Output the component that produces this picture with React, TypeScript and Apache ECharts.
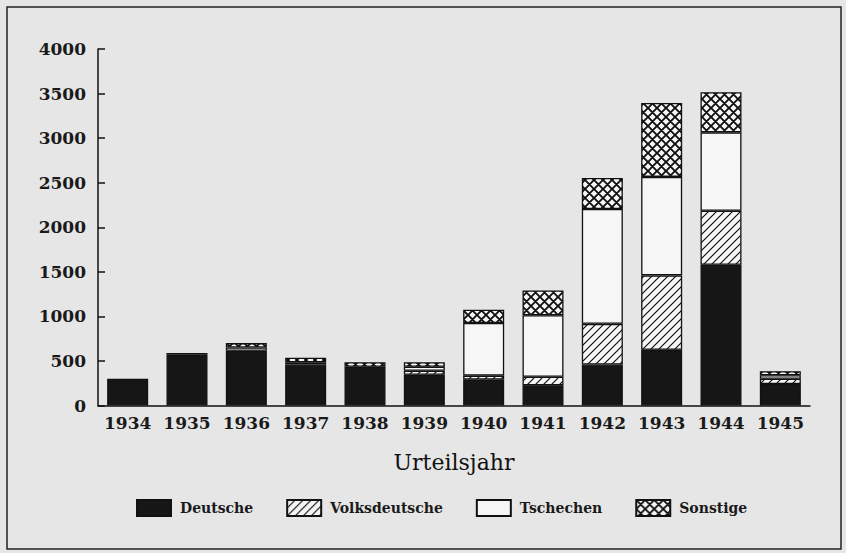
import React, { useEffect, useRef } from "react";
import * as echarts from "echarts";

const years = ["1934", "1935", "1936", "1937", "1938", "1939", "1940", "1941", "1942", "1943", "1944", "1945"];
const deutsche = [300, 570, 615, 460, 435, 345, 290, 228, 460, 625, 1580, 240];
const volksdeutsche = [null, null, null, null, null, 45, 45, 95, 456, 835, 605, 60];
const tschechen = [null, null, 35, 25, null, 45, 590, 690, 1289, 1105, 880, 40];
const sonstige = [null, 20, 50, 50, 50, 50, 150, 277, 347, 830, 450, 45];
const yTicks = [0, 500, 1000, 1500, 2000, 2500, 3000, 3500, 4000];

function makePattern(cross: boolean) {
  const s = cross ? 9 : 8;
  const c = document.createElement("canvas");
  c.width = s;
  c.height = s;
  const ctx = c.getContext("2d")!;
  ctx.fillStyle = "#f6f6f6";
  ctx.fillRect(0, 0, s, s);
  ctx.strokeStyle = "#111111";
  ctx.lineWidth = cross ? 1.9 : 1.2;
  ctx.beginPath();
  for (const k of [0, s, 2 * s]) {
    ctx.moveTo(-1, k + 1);
    ctx.lineTo(k + 1, -1);
  }
  if (cross) {
    for (const k of [-s, 0, s]) {
      ctx.moveTo(-1, k - 1);
      ctx.lineTo(s + 1, k + s + 1);
    }
  }
  ctx.stroke();
  return c;
}

export default function App() {
  const ref = useRef<HTMLDivElement>(null);
  useEffect(() => {
    if (!ref.current) return;
    const chart = echarts.init(ref.current, undefined, { renderer: "svg" });
    const font = "DejaVu Serif";
    const border = { borderColor: "#111111", borderWidth: 1.3 };
    const mk = (name: string, data: any[], color: any) => ({
      name,
      type: "bar",
      stack: "total",
      data,
      barWidth: 41,
      itemStyle: { color, ...border },
      emphasis: { disabled: true },
    });
    chart.setOption({
      animation: false,
      backgroundColor: "#e6e6e6",
      grid: { left: 98, top: 49, width: 712, height: 356.5, containLabel: false },
      xAxis: {
        type: "category",
        data: years,
        axisLine: { lineStyle: { color: "#111111", width: 1.5 } },
        axisTick: { show: false },
        axisLabel: { interval: 0, color: "#1a1a1a", fontFamily: font, fontWeight: "bold", fontSize: 17, margin: 9 },
        name: "Urteilsjahr",
        nameLocation: "middle",
        nameGap: 46,
        nameTextStyle: { color: "#111111", fontFamily: font, fontSize: 22 },
      },
      yAxis: {
        type: "value",
        min: yTicks[0],
        max: yTicks[yTicks.length - 1],
        interval: 500,
        axisLine: { show: true, lineStyle: { color: "#111111", width: 1.5 } },
        axisTick: { show: true, inside: true, length: 7, lineStyle: { color: "#111111", width: 1.5 } },
        splitLine: { show: false },
        axisLabel: {
          color: "#1a1a1a",
          fontFamily: font,
          fontWeight: "bold",
          fontSize: 17,
          margin: 12,
          formatter: (v: number) => String(v),
        },
      },
      legend: {
        left: 131,
        top: 494,
        icon: "rect",
        itemWidth: 34,
        itemHeight: 16,
        itemGap: 33,
        textStyle: { color: "#1a1a1a", fontFamily: font, fontWeight: "bold", fontSize: 14, padding: [0, 0, 0, 4] },
      },
      graphic: [
        {
          type: "rect",
          shape: { x: 7, y: 7, width: 834, height: 542 },
          style: { fill: "none", stroke: "#222222", lineWidth: 1.5 },
          silent: true,
        },
      ],
      series: [
        mk("Deutsche", deutsche, "#161616"),
        mk("Volksdeutsche", volksdeutsche, { image: makePattern(false), repeat: "repeat" }),
        mk("Tschechen", tschechen, "#f6f6f6"),
        mk("Sonstige", sonstige, { image: makePattern(true), repeat: "repeat" }),
      ],
    });
    return () => chart.dispose();
  }, []);
  return (
    <div
      ref={ref}
      style={{ position: "fixed", left: 0, top: 0, width: 846, height: 553 }}
    />
  );
}
